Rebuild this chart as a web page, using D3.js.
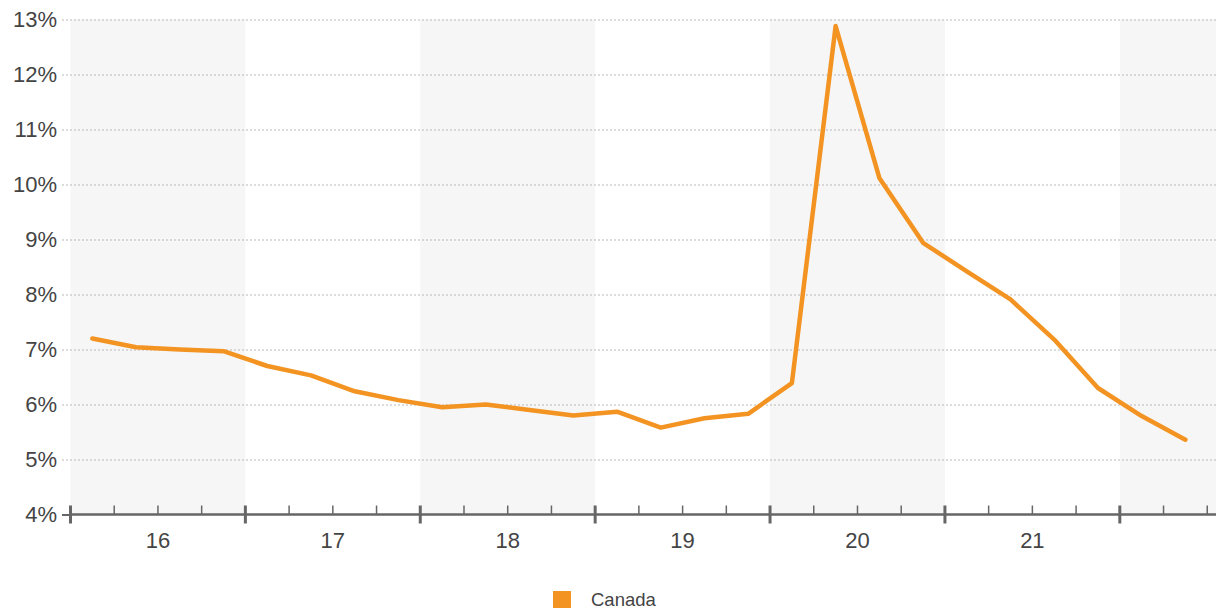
<!DOCTYPE html>
<html>
<head>
<meta charset="utf-8">
<script src="https://cdn.jsdelivr.net/npm/d3@7"></script>
<style>
  html, body { margin: 0; padding: 0; background: #fff; }
  svg { display: block; font-family: "Liberation Sans", Arial, sans-serif; }
</style>
</head>
<body>
<svg id="chart" width="1221" height="612"></svg>
<script>
// Quarterly unemployment rate, Canada, 2016 Q1 – 2022 Q2 (per cent)
const quarters = [
  "2016Q1","2016Q2","2016Q3","2016Q4",
  "2017Q1","2017Q2","2017Q3","2017Q4",
  "2018Q1","2018Q2","2018Q3","2018Q4",
  "2019Q1","2019Q2","2019Q3","2019Q4",
  "2020Q1","2020Q2","2020Q3","2020Q4",
  "2021Q1","2021Q2","2021Q3","2021Q4",
  "2022Q1","2022Q2"
];
const canada = [
  7.20, 7.04, 7.00, 6.97,
  6.70, 6.53, 6.24, 6.08,
  5.95, 6.00, 5.90, 5.80,
  5.87, 5.58, 5.75, 5.83,
  6.39, 12.88, 10.12, 8.94,
  8.42, 7.91, 7.18, 6.30,
  5.79, 5.36
];
const years = [2016, 2017, 2018, 2019, 2020, 2021, 2022];
const yearLabels = ["16", "17", "18", "19", "20", "21", ""];
const yTicks = [4, 5, 6, 7, 8, 9, 10, 11, 12, 13];
const seriesName = "Canada";

const svg = d3.select("#chart");
const lineColor = "#F39322";
const textColor = "#444";

// x: position measured in quarters since 2016 Q1
const x = d3.scaleLinear().domain([0, 26.2]).range([70.5, 1216]);
const y = d3.scaleLinear().domain([4, 13]).range([514.5, 19.5]);

// alternating year bands
const bandYears = years.filter((d, i) => i % 2 === 0);
svg.append("g").selectAll("rect")
  .data(bandYears)
  .join("rect")
  .attr("x", d => x((d - 2016) * 4))
  .attr("width", d => Math.min(x((d - 2016) * 4 + 4), x.range()[1]) - x((d - 2016) * 4))
  .attr("y", y(13))
  .attr("height", y(4) - y(13))
  .attr("fill", "#f6f6f6");

// horizontal grid + y labels
const yAxis = d3.axisLeft(y)
  .tickValues(yTicks)
  .tickSize(-(x.range()[1] - 62))
  .tickFormat(d => d + "%");
const gy = svg.append("g").attr("transform", "translate(62,0)").call(yAxis);
gy.select(".domain").remove();
gy.selectAll(".tick line")
  .attr("stroke", "#b8b8b8")
  .attr("stroke-width", 1)
  .attr("stroke-dasharray", d => d === 4 ? null : "2,2");
gy.selectAll(".tick text")
  .attr("x", -5)
  .attr("fill", textColor)
  .attr("font-size", "22px");
gy.selectAll(".tick").filter(d => d === 4).select("line")
  .attr("x1", 0).attr("x2", 8.5).attr("stroke", "#666").attr("stroke-width", 2);

// x axis: line, year ticks, quarter ticks
const gx = svg.append("g");
gx.append("line")
  .attr("x1", x(0)).attr("x2", x.range()[1])
  .attr("y1", y(4)).attr("y2", y(4))
  .attr("stroke", "#666").attr("stroke-width", 2.5);

const quarterTicks = d3.range(0, 27).filter(q => q % 4 !== 0);
gx.selectAll("line.minor")
  .data(quarterTicks)
  .join("line")
  .attr("class", "minor")
  .attr("x1", d => x(d)).attr("x2", d => x(d))
  .attr("y1", y(4) - 9).attr("y2", y(4))
  .attr("stroke", "#666").attr("stroke-width", 1.5);

gx.selectAll("line.major")
  .data(years)
  .join("line")
  .attr("class", "major")
  .attr("x1", d => x((d - 2016) * 4)).attr("x2", d => x((d - 2016) * 4))
  .attr("y1", y(4) - 9).attr("y2", y(4) + 9)
  .attr("stroke", "#666").attr("stroke-width", 3);

gx.selectAll("text.year")
  .data(years.map((d, i) => ({ year: d, label: yearLabels[i] })).filter(d => d.label))
  .join("text")
  .attr("class", "year")
  .attr("x", d => x((d.year - 2016) * 4 + 2))
  .attr("y", 548)
  .attr("text-anchor", "middle")
  .attr("fill", textColor)
  .attr("font-size", "22px")
  .text(d => d.label);

// series line
const line = d3.line()
  .x((d, i) => x(i + 0.5))
  .y(d => y(d));
svg.append("path")
  .datum(canada)
  .attr("d", line)
  .attr("fill", "none")
  .attr("stroke", lineColor)
  .attr("stroke-width", 4.5)
  .attr("stroke-linejoin", "round")
  .attr("stroke-linecap", "round");

// legend
const legend = svg.append("g").attr("transform", "translate(553,591)");
legend.append("rect")
  .attr("width", 18).attr("height", 17)
  .attr("fill", lineColor);
legend.append("text")
  .attr("x", 38).attr("y", 14.5)
  .attr("fill", textColor)
  .attr("font-size", "18.5px")
  .text(seriesName);
</script>
</body>
</html>
